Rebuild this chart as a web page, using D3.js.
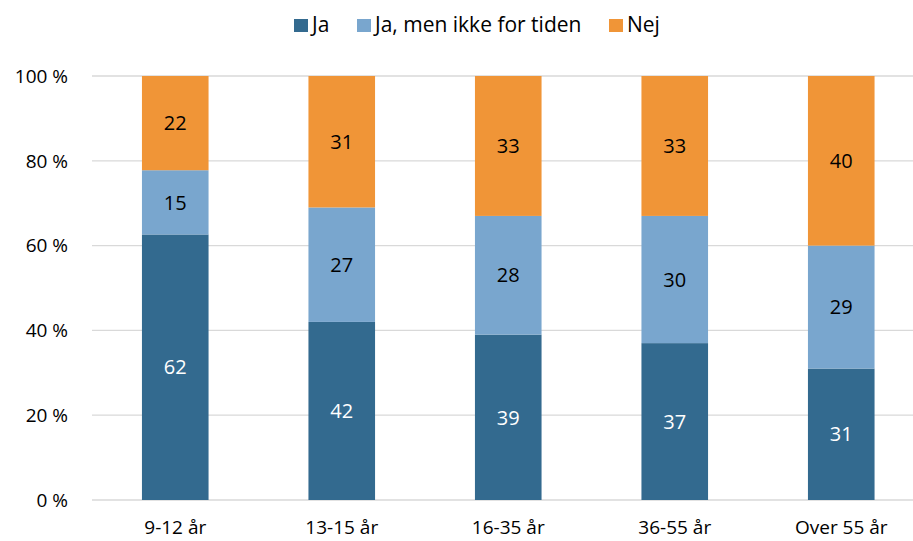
<!DOCTYPE html>
<html><head><meta charset="utf-8">
<script src="https://cdn.jsdelivr.net/npm/d3@7"></script>
<style>body{margin:0;background:#fff;} text{font-family:"Open Sans",Lato,sans-serif;}</style>
</head><body><svg id="c" width="913" height="541"></svg>
<script>
const categories = ["9-12 år","13-15 år","16-35 år","36-55 år","Over 55 år"];
const seriesNames = ["Ja","Ja, men ikke for tiden","Nej"];
const ja = [62,42,39,37,31];
const jaMen = [15,27,28,30,29];
const nej = [22,31,33,33,40];
const yTicks = [0,20,40,60,80,100];
const colors = ["#336a8f","#79a6ce","#f09537"];
const labelColors = ["#ffffff","#000000","#000000"];

const rows = categories.map((c,i)=>({cat:c, "Ja":ja[i], "Ja, men ikke for tiden":jaMen[i], "Nej":nej[i]}));
const stack = d3.stack().keys(seriesNames).offset(d3.stackOffsetExpand)(rows);

const svg = d3.select("#c");
const x = d3.scaleBand().domain(categories).range([92,924.5]).paddingInner(0.6).paddingOuter(0.3);
const y = d3.scaleLinear().domain([0,1]).range([500,76]);

svg.append("g").selectAll("line").data(yTicks).join("line")
  .attr("x1",92).attr("x2",913)
  .attr("y1",d=>y(d/100)).attr("y2",d=>y(d/100))
  .attr("stroke","#d9d9d9").attr("stroke-width",1.3);

svg.append("g").selectAll("text").data(yTicks).join("text")
  .attr("x",68).attr("y",d=>y(d/100)).attr("dy","0.36em")
  .attr("text-anchor","end").attr("font-size",19).attr("fill","#000")
  .text(d=>d+" %");

stack.forEach((s,si)=>{
  const g = svg.append("g");
  g.selectAll("rect").data(s).join("rect")
    .attr("x",d=>x(d.data.cat)).attr("width",x.bandwidth())
    .attr("y",d=>y(d[1])).attr("height",d=>y(d[0])-y(d[1]))
    .attr("fill",colors[si]);
  g.selectAll("text").data(s).join("text")
    .attr("x",d=>x(d.data.cat)+x.bandwidth()/2)
    .attr("y",d=>(y(d[0])+y(d[1]))/2).attr("dy","0.36em")
    .attr("text-anchor","middle").attr("font-size",20)
    .attr("fill",labelColors[si])
    .text(d=>d.data[s.key]);
});

svg.append("g").selectAll("text").data(categories).join("text")
  .attr("x",d=>x(d)+x.bandwidth()/2).attr("y",534)
  .attr("text-anchor","middle").attr("font-size",19).attr("fill","#000")
  .text(d=>d);

const legX = [294,357,609];
const leg = svg.append("g");
seriesNames.forEach((n,i)=>{
  leg.append("rect").attr("x",legX[i]).attr("y",19).attr("width",14).attr("height",13).attr("fill",colors[i]);
  leg.append("text").attr("x",legX[i]+18).attr("y",32)
    .attr("font-size",21).attr("fill","#000").text(n);
});
</script></body></html>
